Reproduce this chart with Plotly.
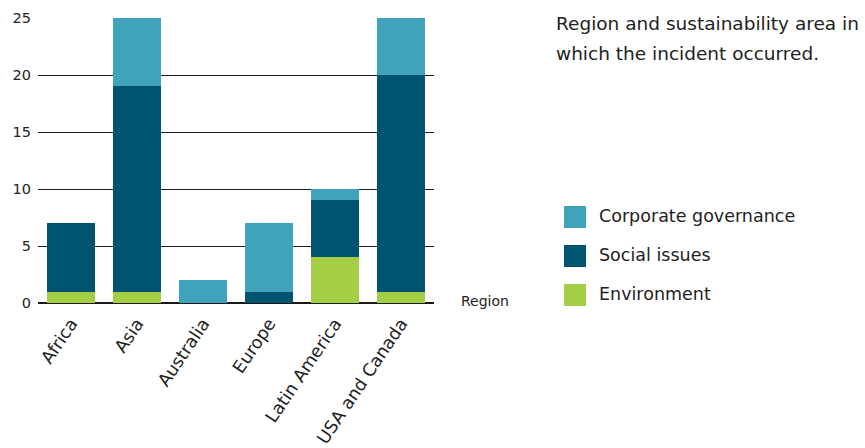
import plotly.graph_objects as go

regions = ["Africa", "Asia", "Australia", "Europe", "Latin America", "USA and Canada"]
environment = [1, 1, 0, 0, 4, 1]
social_issues = [6, 18, 0, 1, 5, 19]
corporate_governance = [0, 6, 2, 6, 1, 5]

series_names = ["Environment", "Social issues", "Corporate governance"]
series_values = [environment, social_issues, corporate_governance]
series_colors = ["#A4CE46", "#005470", "#40A3BC"]

y_ticks = [0, 5, 10, 15, 20, 25]

title_lines = ["Region and sustainability area in", "which the incident occurred."]

FONT = "DejaVu Sans"

fig = go.Figure()
for name, vals, col in zip(series_names, series_values, series_colors):
    fig.add_trace(go.Bar(x=regions, y=vals, name=name, marker=dict(color=col, line=dict(width=0)),
                         showlegend=False))

W, H = 865, 448
ml, mr, mt, mb = 38, W - 434, 18, H - 303
pw, ph = W - ml - mr, H - mt - mb

def px(x):
    return (x - ml) / pw

def py(y):
    return (H - mb - y) / ph

fig.update_layout(
    width=W, height=H,
    margin=dict(l=ml, r=mr, t=mt, b=mb),
    barmode="stack",
    bargap=0.27,
    plot_bgcolor="white",
    paper_bgcolor="white",
    font=dict(family=FONT, color="#222222"),
    xaxis=dict(tickangle=-56, tickfont=dict(size=17.5, family=FONT, color="#222222"),
               showgrid=False, showline=False, ticks="", zeroline=False, automargin=False,
               ticklabelstandoff=6),
    yaxis=dict(range=[0, 25], tickvals=y_ticks, showgrid=True, gridcolor="#1a1a1a", gridwidth=1,
               zeroline=True, zerolinecolor="#1a1a1a", zerolinewidth=2,
               tickfont=dict(size=14.5, family=FONT, color="#222222"), ticks="", showline=False,
               ticklabelstandoff=6, automargin=False),
)

# legend built from series (top to bottom: corporate, social, environment)
legend_tops = [206, 245, 284]
order = [2, 1, 0]
shapes = []
annotations = []
for ly, idx in zip(legend_tops, order):
    shapes.append(dict(type="rect", xref="paper", yref="paper",
                       x0=px(564), x1=px(586), y0=py(ly + 22), y1=py(ly),
                       fillcolor=series_colors[idx], line=dict(width=0)))
    annotations.append(dict(xref="paper", yref="paper", x=px(597), y=py(ly + 10),
                            xanchor="left", yanchor="middle", showarrow=False,
                            text=series_names[idx], font=dict(size=17.5, family=FONT, color="#222222")))

for line, yc in zip(title_lines, [24, 53]):
    annotations.append(dict(xref="paper", yref="paper", x=px(554), y=py(yc), xanchor="left",
                            yanchor="middle", showarrow=False, align="left", text=line,
                            font=dict(size=18.5, family=FONT, color="#222222")))
annotations.append(dict(xref="paper", yref="paper", x=px(459), y=py(301), xanchor="left", yanchor="middle",
                        showarrow=False, text="Region", font=dict(size=14, family=FONT, color="#222222")))

fig.update_layout(shapes=shapes, annotations=annotations)

fig.write_html("out.html")
